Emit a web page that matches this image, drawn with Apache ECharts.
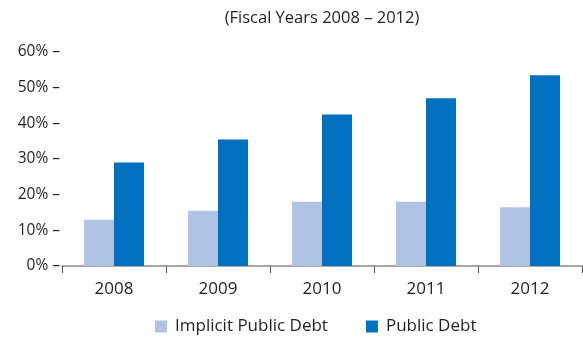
<!DOCTYPE html>
<html><head><meta charset="utf-8">
<script src="https://cdn.jsdelivr.net/npm/echarts@6/dist/echarts.min.js"></script>
<style>html,body{margin:0;padding:0;background:#fff}#c{width:583px;height:338px}</style>
</head><body><div id="c"></div>
<script>
const categories = ['2008','2009','2010','2011','2012'];
const implicitDebt = [13, 15.5, 18, 18, 16.5];
const publicDebt = [29, 35.5, 42.5, 47, 53.5];
const titleText = '(Fiscal Years 2008 \u2013 2012)';
const FONT = '"Open Sans", "Liberation Sans", sans-serif';
const chart = echarts.init(document.getElementById('c'));
chart.setOption({
  animation: false,
  title: { text: titleText, left: 317, textAlign: 'center', top: 5,
    textStyle: { fontFamily: FONT, fontWeight: 'normal', fontSize: 16.5, color: '#231f20' } },
  grid: { left: 62, right: 1, top: 52, bottom: 72 },
  legend: { bottom: -2, left: 150, itemWidth: 12, itemHeight: 12, itemGap: 38,
    icon: 'rect',
    textStyle: { fontFamily: FONT, fontSize: 17, color: '#231f20', padding: [0,0,0,3] },
    data: ['Implicit Public Debt', 'Public Debt'] },
  xAxis: { type: 'category', data: categories,
    axisLine: { lineStyle: { color: '#8a8a8a', width: 1.5 } },
    axisTick: { show: true, length: 7, lineStyle: { color: '#555' } },
    axisLabel: { fontFamily: FONT, fontSize: 17, color: '#231f20', margin: 15 } },
  yAxis: { type: 'value', min: 0, max: 60, interval: 10,
    axisLine: { show: false }, axisTick: { show: false }, splitLine: { show: false },
    axisLabel: { formatter: '{value}% \u2013', fontFamily: FONT, fontSize: 15.5, color: '#231f20', margin: 2 } },
  series: [
    { name: 'Implicit Public Debt', type: 'bar', data: implicitDebt, barWidth: 30, barGap: '0%',
      itemStyle: { color: '#afc4e4' } },
    { name: 'Public Debt', type: 'bar', data: publicDebt, barWidth: 30, barGap: '0%',
      itemStyle: { color: '#0070bf' } }
  ]
});
</script></body></html>
